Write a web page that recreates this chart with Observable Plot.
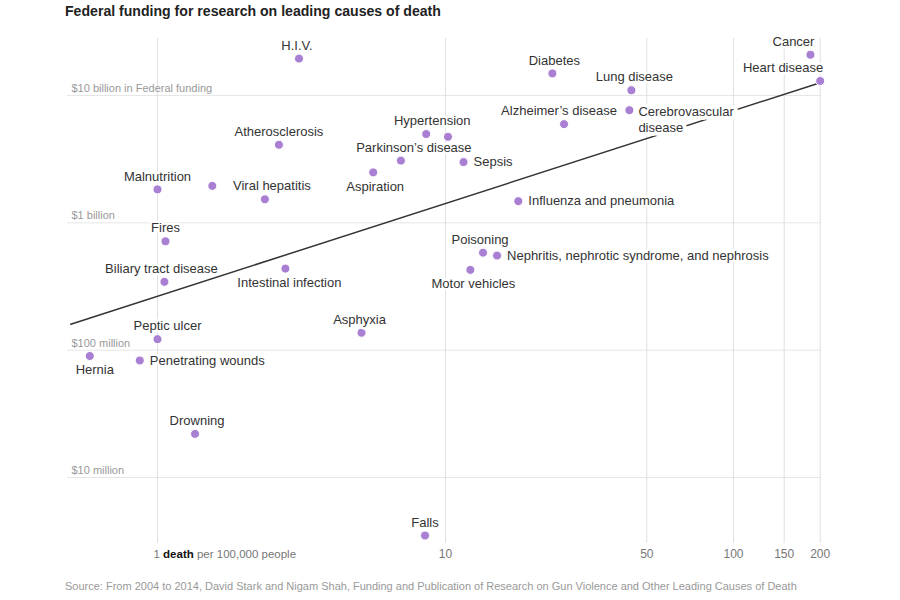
<!DOCTYPE html>
<html>
<head>
<meta charset="utf-8">
<script src="https://cdn.jsdelivr.net/npm/d3@7"></script>
<script src="https://cdn.jsdelivr.net/npm/@observablehq/plot@0.6"></script>
<style>
  html, body { margin: 0; padding: 0; background: #fff; }
  body { width: 900px; height: 600px; position: relative; font-family: "Liberation Sans", Arial, sans-serif; }
  #title { position: absolute; left: 65px; top: 3px; font-size: 14.1px; font-weight: bold; color: #222; white-space: nowrap; }
  #chart { position: absolute; left: 0; top: 28px; }
  #caption { position: absolute; left: 65px; top: 580px; font-size: 11px; color: #999; white-space: nowrap; }
</style>
</head>
<body>
<div id="title">Federal funding for research on leading causes of death</div>
<div id="chart"></div>
<div id="caption">Source: From 2004 to 2014, David Stark and Nigam Shah, Funding and Publication of Research on Gun Violence and Other Leading Causes of Death</div>
<script>
// ---- data ----
const causes = [
  "Cancer", "Heart disease", "Diabetes", "Lung disease", "Cerebrovascular\ndisease",
  "Alzheimer’s disease", "H.I.V.", "Atherosclerosis", "Hypertension", null,
  "Parkinson’s disease", "Aspiration", "Sepsis", "Malnutrition", null,
  "Viral hepatitis", "Fires", "Biliary tract disease", "Intestinal infection", "Peptic ulcer",
  "Hernia", "Penetrating wounds", "Drowning", "Asphyxia", "Falls",
  "Poisoning", "Nephritis, nephrotic syndrome, and nephrosis", "Motor vehicles", "Influenza and pneumonia"
];
// deaths per 100,000 people
const deaths = [
  185, 200, 23.5, 44.2, 43.5,
  25.8, 3.10, 2.64, 8.57, 10.2,
  7.0, 5.61, 11.55, 1.0, 1.55,
  2.36, 1.066, 1.057, 2.78, 1.0,
  0.582, 0.868, 1.35, 5.11, 8.49,
  13.5, 15.1, 12.2, 17.9
];
// federal funding, dollars
const funding = [
  20.9e9, 13.0e9, 14.9e9, 11.0e9, 7.67e9,
  5.96e9, 19.5e9, 4.1e9, 4.98e9, 4.74e9,
  3.08e9, 2.49e9, 3.0e9, 1.83e9, 1.95e9,
  1.53e9, 716e6, 344e6, 437e6, 122e6,
  90e6, 83e6, 22e6, 137e6, 3.5e6,
  583e6, 553e6, 427e6, 1.48e9
];
// regression line end points
const fitDeaths = [0.5, 200];
const fitFunding = [1.6e8, 1.26e10];

// ticks
const xTicks = [1, 10, 50, 100, 150, 200];
const xTickLabels = ["1", "10", "50", "100", "150", "200"];
const yTicks = [1e7, 1e8, 1e9, 1e10];
const yTickLabels = ["$10 million", "$100 million", "$1 billion", "$10 billion in Federal funding"];

// label layout
const labelPlace = [
  "topEnd", "topEnd", "top", "top", "cerebro",
  "top", "top", "top", "top", null,
  "top", "bottom", "right", "top", null,
  "top", "top", "top", "bottom", "top",
  "bottom", "right", "top", "top", "top",
  "top", "right", "bottom", "right"
];
const labelShift = [
  4, 3, 2, 3, 0,
  -5, -2, 0, 6, 0,
  13, 2, 0, 0, 0,
  7, 0, -3, 4, 10,
  5, 0, 2, -2, 0,
  -3, 0, 3, 0
];

// ---- build ----
const rows = causes.map((c, i) => ({cause: c, deaths: deaths[i], funding: funding[i], place: labelPlace[i], shift: labelShift[i]}));
const fit = fitDeaths.map((d, i) => ({deaths: d, funding: fitFunding[i]}));
const yLab = yTicks.map((t, i) => ({funding: t, label: yTickLabels[i]}));
const xLab = xTicks.map((t, i) => ({deaths: t, label: xTickLabels[i]}));

const labelMarks = rows.filter(r => r.cause).map(r => {
  const base = {x: "deaths", y: "funding", text: "cause", fill: "#333", stroke: "white", strokeWidth: 5, fontSize: 13};
  if (r.place === "top") return Plot.text([r], {...base, dy: -13, dx: r.shift, textAnchor: "middle"});
  if (r.place === "bottom") return Plot.text([r], {...base, dy: 14, dx: r.shift, textAnchor: "middle"});
  if (r.place === "right") return Plot.text([r], {...base, dx: 10 + r.shift, textAnchor: "start"});
  if (r.place === "topEnd") return Plot.text([r], {...base, dy: -13, dx: r.shift, textAnchor: "end"});
  if (r.place === "cerebro") return Plot.text([r], {...base, strokeWidth: 8, dx: 9, dy: -6, textAnchor: "start", lineAnchor: "top", lineHeight: 1.27});
});

const chart = Plot.plot({
  width: 900,
  height: 540,
  marginLeft: 67,
  marginRight: 80,
  marginTop: 10,
  marginBottom: 25,
  x: {type: "log", domain: [1, 100], range: [157, 733], axis: null},
  y: {type: "log", domain: [1e7, 1e10], range: [449, 67], axis: null},
  style: {fontFamily: "'Liberation Sans', Arial, sans-serif", fontSize: "13px", color: "#333", background: "white", overflow: "visible"},
  marks: [
    Plot.gridY(yTicks, {stroke: "#e6e6e6", strokeOpacity: 1}),
    Plot.gridX(xTicks, {stroke: "#e0e0e0", strokeOpacity: 1}),
    Plot.text(xLab, {x: "deaths", frameAnchor: "bottom", text: "label", dy: 11, fill: "#777", fontSize: 12, lineAnchor: "middle", textAnchor: "middle"}),
    Plot.text(yLab, {frameAnchor: "left", y: "funding", text: "label", dx: 4, dy: -7, textAnchor: "start", fill: "#999", fontSize: 11}),
    Plot.line(fit, {x: "deaths", y: "funding", stroke: "#333", strokeWidth: 1.5}),
    Plot.dot(rows, {x: "deaths", y: "funding", r: 4.5, fill: "#a87fd3", stroke: "white", strokeWidth: 1}),
    ...labelMarks
  ]
});

document.getElementById("chart").appendChild(chart);

// mixed-style label for the "1" tick
d3.select(chart).selectAll("text")
  .filter(function () { return this.textContent === "1"; })
  .each(function () {
    const t = d3.select(this);
    t.text(null).attr("text-anchor", "start").attr("dx", -4).attr("font-size", 11.5);
    t.append("tspan").text("1 ");
    t.append("tspan").text("death").attr("font-weight", "bold").attr("fill", "#111");
    t.append("tspan").text(" per 100,000 people");
  });
</script>
</body>
</html>
